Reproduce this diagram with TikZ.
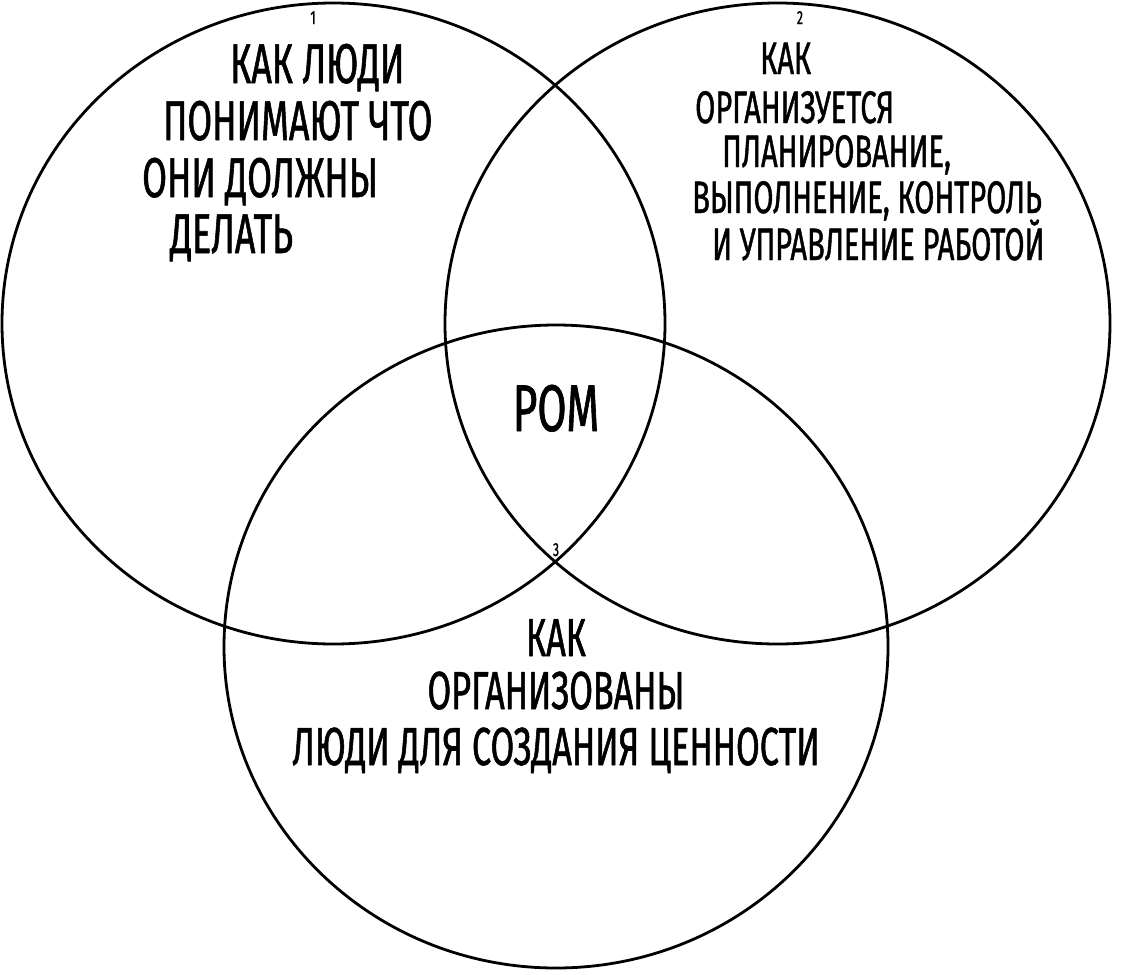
\documentclass[tikz,border=0pt]{standalone}
\usepackage{fontspec}
\setmainfont{Fira Sans}[FakeStretch=0.64, FakeBold=1]
\begin{document}
\begin{tikzpicture}[x=1pt, y=-1pt, line join=round, line cap=round,
  ring/.style={line width=2.8pt},
  big/.style={inner sep=0pt, font=\fontsize{56}{60}\selectfont},
  low/.style={inner sep=0pt, font=\fontsize{53.5}{58}\selectfont},
  mid/.style={inner sep=0pt, font=\fontsize{45.5}{50}\selectfont},
  num/.style={inner sep=0pt, font=\fontsize{19}{20}\selectfont}]
 \useasboundingbox (0,0) rectangle (1125,975);
 % three sets
 \draw[ring] (333.5,323.5) ellipse [x radius=331.5, y radius=320.5];
 \draw[ring] (777.5,323.5) ellipse [x radius=332.5, y radius=320.5];
 \draw[ring] (556,646.5) ellipse [x radius=332, y radius=321.5];
 \node[num, anchor=base] (n1) at (313,24) {1};
 \node[num, anchor=base] (n2) at (800,24) {2};
 \node[num, anchor=base] (n3) at (556,556) {3};
 % texts
 \foreach \x/\y/\t [count=\i] in {230/83/КАК ЛЮДИ, 163/140/ПОНИМАЮТ ЧТО, 142/197/ОНИ ДОЛЖНЫ, 170/253/ДЕЛАТЬ}
   \node[big, anchor=base west] (a\i) at (\x,\y) {\t};
 \foreach \x/\y/\t [count=\i] in {760/74/КАК, 695/123/ОРГАНИЗУЕТСЯ, 722/167/{ПЛАНИРОВАНИЕ,}, 692/213/{ВЫПОЛНЕНИЕ, КОНТРОЛЬ}, 712/260/И УПРАВЛЕНИЕ РАБОТОЙ}
   \node[mid, anchor=base west] (b\i) at (\x,\y) {\t};
 \foreach \y/\t [count=\i] in {656/КАК, 709/ОРГАНИЗОВАНЫ, 765/ЛЮДИ ДЛЯ СОЗДАНИЯ ЦЕННОСТИ}
   \node[low, anchor=base] (c\i) at (556,\y) {\t};
 \node[inner sep=0pt, font=\fontsize{66}{70}\selectfont, anchor=base] (rom) at (556,431) {РОМ};
\end{tikzpicture}
\end{document}
